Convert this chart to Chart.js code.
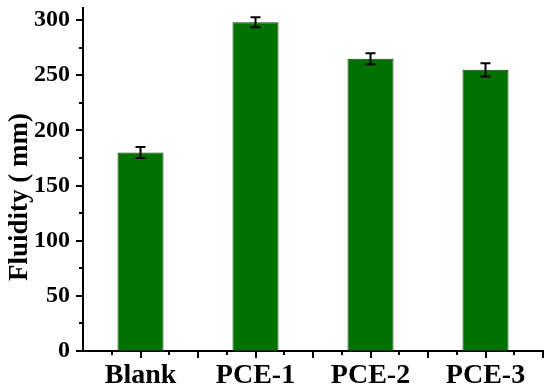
<!DOCTYPE html>
<html>
<head>
<meta charset="utf-8">
<script src="https://cdn.jsdelivr.net/npm/chart.js@4/dist/chart.umd.min.js"></script>
<style>
    html, body { margin: 0; padding: 0; background: #fff; }
    #wrap { width: 550px; height: 389px; }
</style>
</head>
<body>
<div id="wrap"><canvas id="fluidityChart"></canvas></div>
<script>
// data
const categories = ['Blank', 'PCE-1', 'PCE-2', 'PCE-3'];
const fluidity = [180, 298, 265, 255];
const fluidityErr = [5, 4.5, 5, 6];
const yTickValues = [0, 50, 100, 150, 200, 250, 300];
const yMinorValues = [25, 75, 125, 175, 225, 275];
const yTitle = 'Fluidity ( mm)';

const serif = '"Liberation Serif", "Times New Roman", serif';

// error bars drawn on top of each bar
const errorBarPlugin = {
    id: 'errorBars',
    afterDatasetsDraw(chart) {
        const ctx = chart.ctx;
        const yScale = chart.scales.y;
        const meta = chart.getDatasetMeta(0);
        ctx.save();
        ctx.strokeStyle = '#000';
        ctx.lineWidth = 2;
        meta.data.forEach((bar, i) => {
            const v = fluidity[i];
            const e = fluidityErr[i];
            const top = yScale.getPixelForValue(v + e);
            const bottom = yScale.getPixelForValue(v - e);
            const x = bar.x;
            ctx.beginPath();
            ctx.moveTo(x, top);
            ctx.lineTo(x, bottom);
            ctx.moveTo(x - 5, top);
            ctx.lineTo(x + 5, top);
            ctx.moveTo(x - 5, bottom);
            ctx.lineTo(x + 5, bottom);
            ctx.stroke();
        });
        ctx.restore();
    }
};

// outward tick marks (major + minor) and the rotated axis title
const axisDecorPlugin = {
    id: 'axisDecor',
    afterDraw(chart) {
        const ctx = chart.ctx;
        const area = chart.chartArea;
        const y = chart.scales.y;
        ctx.save();
        ctx.strokeStyle = '#000';
        ctx.lineWidth = 2;
        ctx.beginPath();
        yTickValues.forEach(v => {
            const py = Math.round(y.getPixelForValue(v));
            ctx.moveTo(area.left, py);
            ctx.lineTo(area.left - 7, py);
        });
        yMinorValues.forEach(v => {
            const py = Math.round(y.getPixelForValue(v));
            ctx.moveTo(area.left, py);
            ctx.lineTo(area.left - 4, py);
        });
        // x: majors at centres and category edges, minors in between
        const step = (area.right - area.left) / categories.length / 4;
        for (let k = 1; k <= categories.length * 4; k++) {
            const px = Math.round(area.left + k * step);
            const len = k % 2 === 0 ? 7 : 4;
            ctx.moveTo(px, area.bottom);
            ctx.lineTo(px, area.bottom + len);
        }
        ctx.stroke();

        ctx.fillStyle = '#000';
        ctx.font = 'bold 27px ' + serif;
        ctx.textAlign = 'center';
        ctx.textBaseline = 'middle';
        ctx.translate(20, 197);
        ctx.rotate(-Math.PI / 2);
        ctx.fillText(yTitle, 0, 0);
        ctx.restore();
    }
};

const ctx = document.getElementById('fluidityChart').getContext('2d');
new Chart(ctx, {
    type: 'bar',
    data: {
        labels: categories,
        datasets: [{
            label: 'Fluidity',
            data: fluidity,
            backgroundColor: '#007200',
            borderColor: '#0b3b0b',
            borderWidth: 1,
            borderSkipped: false,
            barPercentage: 0.4,
            categoryPercentage: 1.0
        }]
    },
    options: {
        responsive: true,
        maintainAspectRatio: false,
        animation: false,
        layout: {
            padding: { top: 8, right: 7, left: 0, bottom: 0 }
        },
        plugins: {
            legend: { display: false },
            tooltip: { enabled: false }
        },
        scales: {
            x: {
                grid: { display: false, drawTicks: false, tickLength: 0 },
                border: { display: true, color: '#000', width: 2 },
                ticks: {
                    color: '#000',
                    padding: 8,
                    font: { family: serif, size: 28, weight: 'bold' }
                },
                afterFit: (scale) => {
                    scale.height = 38;
                    scale.paddingLeft = 0;
                    scale.paddingRight = 0;
                }
            },
            y: {
                min: 0,
                max: 311,
                grid: { display: false, drawTicks: false, tickLength: 0 },
                border: { display: true, color: '#000', width: 2 },
                ticks: {
                    color: '#000',
                    padding: 13,
                    font: { family: serif, size: 24, weight: 'bold' }
                },
                afterBuildTicks: (scale) => {
                    scale.ticks = yTickValues.map(v => ({ value: v }));
                },
                afterFit: (scale) => {
                    scale.width = 83;
                    scale.paddingTop = 0;
                    scale.paddingBottom = 0;
                }
            }
        }
    },
    plugins: [errorBarPlugin, axisDecorPlugin]
});
</script>
</body>
</html>
